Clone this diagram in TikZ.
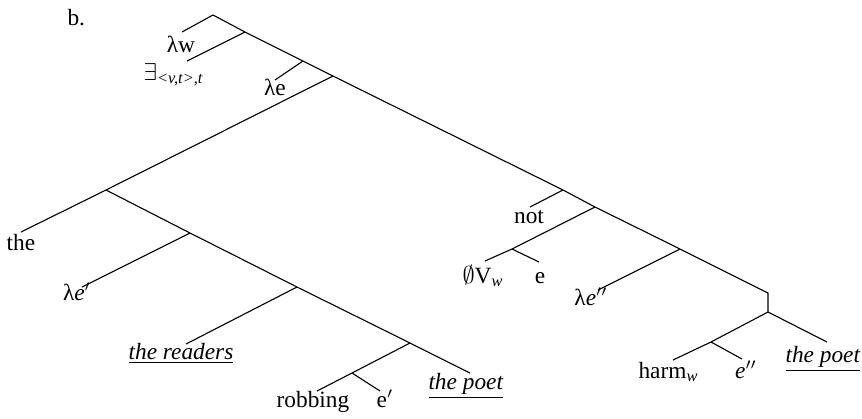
\documentclass[tikz,border=0pt]{standalone}
\usepackage{amsmath}
\usepackage{fontspec}
\setmainfont{Liberation Serif}
\usetikzlibrary{positioning}

\begin{document}
\begin{tikzpicture}[
  x=0.45pt, y=-0.45pt,
  line width=0.5pt,
  leaf/.style={anchor=base, inner sep=0pt, font=\fontsize{10.5}{12}\selectfont},
  branch/.style={draw=black, line width=0.5pt}
]
  \useasboundingbox (0,0) rectangle (862,418);
  % branching points
  \coordinate (root) at (213,15);
  \coordinate (n1) at (245,32);
  \coordinate (n2) at (303,61);
  \coordinate (n3) at (333,76);
  \coordinate (dp) at (106,190);
  \coordinate (n5) at (190,233);
  \coordinate (n6) at (297,287);
  \coordinate (n7) at (410,343);
  \coordinate (n8) at (352,373);
  \coordinate (s1) at (563,190);
  \coordinate (s2) at (595,207);
  \coordinate (neg) at (512,249);
  \coordinate (s3) at (680,249);
  \coordinate (s4) at (768,293);
  \coordinate (s5) at (768,312);
  \coordinate (vp) at (711,342);
  % leaf ends
  \coordinate (lwEnd) at (182,32);
  \coordinate (exEnd) at (187,61);
  \coordinate (leEnd) at (275,80);
  \coordinate (theEnd) at (21,232);
  \coordinate (lepEnd) at (82,287);
  \coordinate (readEnd) at (186,344);
  \coordinate (poetEnd) at (470,373);
  \coordinate (robEnd) at (317,391);
  \coordinate (epEnd) at (380,391);
  \coordinate (notEnd) at (530,207);
  \coordinate (nullEnd) at (485,261);
  \coordinate (eEnd) at (539,262);
  \coordinate (leppEnd) at (598,290);
  \coordinate (harmEnd) at (673,360);
  \coordinate (eppEnd) at (742,359);
  \coordinate (poet2End) at (827,342);

  % labels
  \node[leaf, anchor=base west] (label) at (67,25) {b.};
  \node[leaf] (lw) at (181,52) {λw};
  \node[leaf, anchor=base west] (ex) at (143,80) {$\exists_{\textit{<v,t>,t}}$};
  \node[leaf] (le) at (275,95) {λe};
  \node[leaf] (the) at (21,250) {the};
  \node[leaf] (lep) at (77,300) {λ\textit{e}$'$};
  \node[leaf] (readers) at (181,359) {\underline{\textit{the readers}}};
  \node[leaf] (poet) at (466,389) {\underline{\textit{the poet}}};
  \node[leaf] (robbing) at (313,407) {robbing};
  \node[leaf] (ep) at (385,407) {e$'$};
  \node[leaf] (not) at (529,223) {not};
  \node[leaf, anchor=base west] (null) at (462,283) {$\emptyset$V$_{\textit{w}}$};
  \node[leaf] (e) at (540,283) {e};
  \node[leaf] (lepp) at (591,305) {λ\textit{e}$''$};
  \node[leaf, anchor=base west] (harm) at (638,378) {harm$_{\textit{w}}$};
  \node[leaf] (epp) at (746,378) {\textit{e}$''$};
  \node[leaf] (poet2) at (823,362) {\underline{\textit{the poet}}};

  % spine
  \draw[branch] (lwEnd) -- (root) -- (n1) -- (n2) -- (n3) -- (s1) -- (s2) -- (s3) -- (s4) -- (s5);
  \draw[branch] (n1) -- (exEnd);
  \draw[branch] (n2) -- (leEnd);
  % subject
  \draw[branch] (n3) -- (dp) -- (theEnd);
  \draw[branch] (dp) -- (n5) -- (n6) -- (n7) -- (poetEnd);
  \draw[branch] (n5) -- (lepEnd);
  \draw[branch] (n6) -- (readEnd);
  \draw[branch] (n7) -- (n8) -- (robEnd);
  \draw[branch] (n8) -- (epEnd);
  % negation
  \draw[branch] (s1) -- (notEnd);
  \draw[branch] (s2) -- (neg) -- (nullEnd);
  \draw[branch] (neg) -- (eEnd);
  % verb phrase
  \draw[branch] (s3) -- (leppEnd);
  \draw[branch] (s5) -- (poet2End);
  \draw[branch] (s5) -- (vp) -- (harmEnd);
  \draw[branch] (vp) -- (eppEnd);
\end{tikzpicture}
\end{document}
